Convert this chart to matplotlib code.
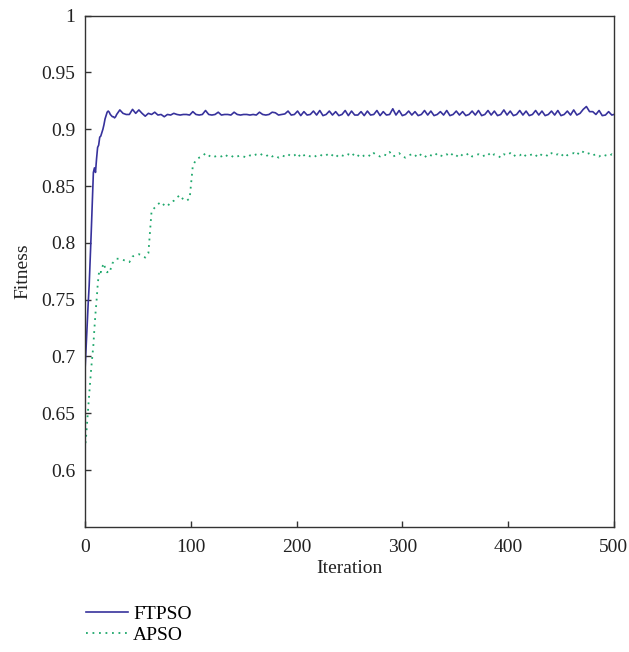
import matplotlib
matplotlib.use("Agg")
import matplotlib.pyplot as plt
from matplotlib.ticker import FuncFormatter

plt.rcParams["font.family"] = ["Liberation Serif", "DejaVu Serif"]

FT_COLOR = "#37329c"
AP_COLOR = "#1fa86c"
TEXT = "#222222"

# iteration grid: every iteration up to 29, then every 3rd, then the last one
iterations = list(range(0, 30)) + list(range(30, 499, 3)) + [500]

ftpso_start = [0.686, 0.705, 0.725, 0.745, 0.762, 0.785, 0.810, 0.835, 0.862, 0.866,
               0.862, 0.874, 0.884, 0.886, 0.893, 0.894, 0.897, 0.900, 0.904, 0.909,
               0.912, 0.915, 0.916, 0.915, 0.913, 0.912, 0.911, 0.911, 0.910, 0.911]
ftpso_rest = [
    0.913, 0.917, 0.914, 0.913, 0.913, 0.9175, 0.914, 0.917, 0.914, 0.9115,   # 30-57
    0.914, 0.913, 0.915, 0.9125, 0.913, 0.911, 0.913, 0.9125, 0.914, 0.913,   # 60-87
    0.9125, 0.913, 0.913, 0.9125, 0.9155, 0.913, 0.9125, 0.913, 0.9165, 0.913,  # 90-117
    0.9125, 0.913, 0.915, 0.9125, 0.913, 0.913, 0.9125, 0.915, 0.913, 0.9125,  # 120-147
    0.913, 0.913, 0.9125, 0.913, 0.9125, 0.915, 0.913, 0.9125, 0.913, 0.915,   # 150-177
    0.9145, 0.9125, 0.913, 0.9135,                                            # 180-189
    0.916, 0.9125, 0.913, 0.916, 0.912, 0.9155, 0.9125, 0.913, 0.916, 0.9125,  # 192-219
    0.9165, 0.912, 0.913, 0.916, 0.9125, 0.9155, 0.912, 0.913, 0.9165, 0.912,  # 222-249
    0.916, 0.9125, 0.9125, 0.9155, 0.912, 0.916, 0.9125, 0.913, 0.9165, 0.912, # 252-279
    0.9155, 0.9125, 0.913, 0.918, 0.9125, 0.9165, 0.912, 0.913, 0.916, 0.9125, # 282-309
    0.9155, 0.912, 0.913, 0.9165, 0.9125, 0.916, 0.912, 0.913, 0.9155, 0.9125, # 312-339
    0.9165, 0.912, 0.913, 0.916, 0.9125, 0.9155, 0.912, 0.913, 0.916, 0.9125,  # 342-369
    0.9165, 0.912, 0.913, 0.9165, 0.9125, 0.916, 0.912, 0.913, 0.917, 0.9125,  # 372-399
    0.916, 0.912, 0.913, 0.9165, 0.9125, 0.916, 0.912, 0.913, 0.9165, 0.9125,  # 402-429
    0.916, 0.912, 0.913, 0.916, 0.9125, 0.9165, 0.912, 0.913, 0.916, 0.9125,   # 432-459
    0.917, 0.9125, 0.914, 0.9175, 0.920, 0.9155, 0.9155, 0.913, 0.9165, 0.912, # 462-489
    0.9125, 0.9155, 0.9125,                                                   # 492-498
    0.913,                                                                    # 500
]

apso_start = [0.618, 0.628, 0.641, 0.653, 0.666, 0.678, 0.690, 0.700, 0.710, 0.725,
              0.738, 0.749, 0.762, 0.772, 0.776, 0.774, 0.778, 0.780, 0.782, 0.778,
              0.776, 0.774, 0.775, 0.777, 0.776, 0.779, 0.782, 0.783, 0.784, 0.785]
apso_rest = [
    0.786, 0.786, 0.785, 0.784, 0.783, 0.788, 0.789, 0.790, 0.789, 0.787,   # 30-57
    0.791, 0.828, 0.831, 0.834, 0.836, 0.833, 0.832, 0.836, 0.837, 0.840,   # 60-87
    0.842, 0.838, 0.837, 0.839, 0.868, 0.873, 0.875, 0.876, 0.879, 0.877,   # 90-117
    0.875, 0.876, 0.877, 0.876, 0.878, 0.876, 0.877, 0.875, 0.876, 0.877,   # 120-147
    0.876, 0.875, 0.877, 0.876, 0.878, 0.879, 0.877, 0.876, 0.878, 0.876,   # 150-177
    0.877, 0.875, 0.877, 0.876,                                             # 180-189
    0.878, 0.876, 0.877, 0.879, 0.875, 0.877, 0.878, 0.876, 0.875, 0.877,   # 192-219
    0.878, 0.876, 0.877, 0.879, 0.877, 0.875, 0.878, 0.877, 0.876, 0.878,   # 222-249
    0.876, 0.879, 0.877, 0.875, 0.877, 0.878, 0.876, 0.879, 0.877, 0.876,   # 252-279
    0.878, 0.877, 0.880, 0.876, 0.877, 0.879, 0.876, 0.875, 0.877, 0.878,   # 282-309
    0.876, 0.879, 0.877, 0.875, 0.878, 0.877, 0.876, 0.879, 0.877, 0.876,   # 312-339
    0.878, 0.876, 0.879, 0.877, 0.875, 0.878, 0.877, 0.879, 0.876, 0.877,   # 342-369
    0.878, 0.876, 0.877, 0.879, 0.876, 0.878, 0.877, 0.875, 0.878, 0.877,   # 372-399
    0.879, 0.876, 0.878, 0.877, 0.879, 0.876, 0.877, 0.878, 0.876, 0.879,   # 402-429
    0.877, 0.878, 0.876, 0.879, 0.877, 0.878, 0.876, 0.879, 0.877, 0.878,   # 432-459
    0.879, 0.877, 0.881, 0.880, 0.878, 0.879, 0.877, 0.878, 0.876, 0.878,   # 462-489
    0.877, 0.876, 0.878,                                                    # 492-498
    0.877,                                                                  # 500
]

ftpso = ftpso_start + ftpso_rest
apso = apso_start + apso_rest

fig = plt.figure(figsize=(6.29, 6.52), dpi=100)
ax = fig.add_axes([0.135, 0.192, 0.841, 0.784])

ax.plot(iterations, ftpso, color=FT_COLOR, lw=1.2, label="FTPSO")
ax.plot(iterations, apso, color=AP_COLOR, lw=1.3, linestyle=(0, (1, 2.6)),
        label="APSO")

ax.set_xlim(0, 500)
ax.set_ylim(0.55, 1.0)
ax.set_xticks([0, 100, 200, 300, 400, 500])
ax.set_yticks([0.6, 0.65, 0.7, 0.75, 0.8, 0.85, 0.9, 0.95, 1.0])
ax.yaxis.set_major_formatter(FuncFormatter(lambda v, p: f"{v:g}"))
ax.tick_params(direction="in", length=4.5, width=1, labelsize=14,
               colors="#333333", labelcolor=TEXT)
ax.tick_params(axis="x", pad=9)
ax.tick_params(axis="y", pad=7)
for sp in ax.spines.values():
    sp.set_color("#333333")
    sp.set_linewidth(1)

ax.set_xlabel("Iteration", fontsize=14, color=TEXT, labelpad=3)
ax.set_ylabel("Fitness", fontsize=14, color=TEXT, labelpad=7)

fig.legend(loc="upper left", bbox_to_anchor=(0.136, 0.072), frameon=False,
           fontsize=14, handlelength=2.2, handletextpad=0.25, labelspacing=0.2,
           borderaxespad=0, borderpad=0)

fig.savefig("out.png", dpi=100, facecolor="white")
